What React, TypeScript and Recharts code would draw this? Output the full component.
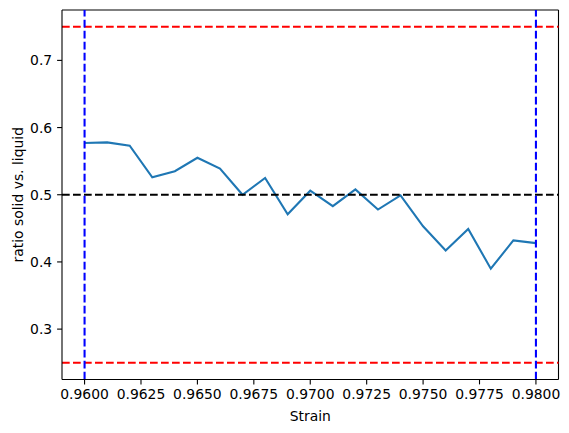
import React from 'react';
import {
  LineChart,
  Line,
  XAxis,
  YAxis,
  ReferenceLine,
} from 'recharts';

// strain values sampled at 0.001 steps
const strains = [
  0.96, 0.961, 0.962, 0.963, 0.964, 0.965, 0.966, 0.967, 0.968, 0.969, 0.97,
  0.971, 0.972, 0.973, 0.974, 0.975, 0.976, 0.977, 0.978, 0.979, 0.98,
];
const ratios = [
  0.577, 0.578, 0.573, 0.526, 0.535, 0.555, 0.539, 0.5, 0.525, 0.471, 0.506,
  0.483, 0.508, 0.478, 0.499, 0.453, 0.417, 0.449, 0.39, 0.432, 0.428,
];
const xTicks = [0.96, 0.9625, 0.965, 0.9675, 0.97, 0.9725, 0.975, 0.9775, 0.98];
const yTicks = [0.3, 0.4, 0.5, 0.6, 0.7];
const limitLines = [0.25, 0.75];
const midLine = 0.5;
const strainBounds = [0.96, 0.98];

const data = strains.map((s, i) => ({ strain: s, ratio: ratios[i] }));

const FONT = 'DejaVu Sans, sans-serif';
const tickStyle = { fill: '#000', fontSize: 13.9, fontFamily: FONT };
const dash = '7.7 3.3';

export default function App() {
  return (
    <div style={{ width: 561, height: 425 }}>
      <LineChart
        width={561}
        height={425}
        data={data}
        margin={{ top: 2, right: 10.5, left: 0, bottom: 0 }}
      >
        <XAxis
          dataKey="strain"
          type="number"
          domain={[0.959, 0.981]}
          allowDataOverflow
          ticks={xTicks}
          tickFormatter={(v: number) => v.toFixed(4)}
          height={53.5}
          tick={tickStyle}
          tickSize={4.9}
          tickMargin={4.9}
          stroke="#000"
          strokeWidth={1.1}
          label={{
            value: 'Strain',
            position: 'insideBottom',
            offset: 12.5,
            style: { fill: '#000', fontSize: 13.9, fontFamily: FONT },
          }}
        />
        <YAxis
          type="number"
          domain={[0.225, 0.775]}
          allowDataOverflow
          ticks={yTicks}
          tickFormatter={(v: number) => v.toFixed(1)}
          width={54}
          tick={tickStyle}
          tickSize={4.9}
          tickMargin={4.9}
          stroke="#000"
          strokeWidth={1.1}
          label={{
            value: 'ratio solid vs. liquid',
            angle: -90,
            position: 'insideLeft',
            offset: 10,
            style: { fill: '#000', fontSize: 13.9, fontFamily: FONT, textAnchor: 'middle' },
          }}
        />
        {/* top and right spines */}
        <ReferenceLine y={0.775} stroke="#000" strokeWidth={1.1} ifOverflow="visible" />
        <ReferenceLine x={0.981} stroke="#000" strokeWidth={1.1} ifOverflow="visible" />
        <Line
          dataKey="ratio"
          stroke="#1f77b4"
          strokeWidth={2.08}
          dot={false}
          isAnimationActive={false}
        />
        {limitLines.map((v) => (
          <ReferenceLine key={`h-${v}`} y={v} stroke="#ff0000" strokeWidth={2.08} strokeDasharray={dash} />
        ))}
        <ReferenceLine y={midLine} stroke="#000" strokeWidth={2.08} strokeDasharray={dash} />
        {strainBounds.map((v) => (
          <ReferenceLine key={`v-${v}`} x={v} stroke="#0000ff" strokeWidth={2.08} strokeDasharray={dash} />
        ))}
      </LineChart>
    </div>
  );
}
